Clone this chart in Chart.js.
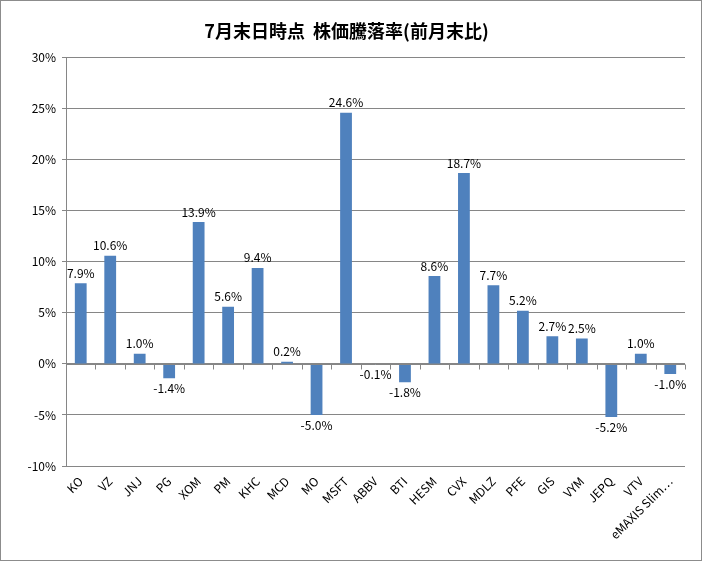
<!DOCTYPE html>
<html>
<head>
<meta charset="utf-8">
<script src="https://cdn.jsdelivr.net/npm/chart.js@4"></script>
<style>
  html, body { margin: 0; padding: 0; background: #fff; }
  #wrap { width: 702px; height: 561px; position: relative; }
</style>
</head>
<body>
<div id="wrap"><canvas id="myChart" width="702" height="561"></canvas></div>
<script>
'use strict';
// 銘柄と騰落率(%)
const tickers = ['KO','VZ','JNJ','PG','XOM','PM','KHC','MCD','MO','MSFT','ABBV','BTI','HESM','CVX','MDLZ','PFE','GIS','VYM','JEPQ','VTV','eMAXIS Slim…'];
const changes = [7.9, 10.6, 1.0, -1.4, 13.9, 5.6, 9.4, 0.2, -5.0, 24.6, -0.1, -1.8, 8.6, 18.7, 7.7, 5.2, 2.7, 2.5, -5.2, 1.0, -1.0];
const yTicks = [30, 25, 20, 15, 10, 5, 0, -5, -10];
const titleText = '7月末日時点  株価騰落率(前月末比)';

const barColor = '#4F81BD';
const gridColor = '#868686';
const fontFamily = '"Noto Sans CJK JP", "Noto Sans", sans-serif';

// value labels above / below each bar
const valueLabels = {
  id: 'valueLabels',
  afterDatasetsDraw(chart) {
    const ctx = chart.ctx;
    const meta = chart.getDatasetMeta(0);
    ctx.save();
    ctx.font = '12px ' + fontFamily;
    ctx.fillStyle = '#000';
    ctx.textAlign = 'center';
    meta.data.forEach((bar, i) => {
      const v = changes[i];
      const txt = v.toFixed(1) + '%';
      if (v >= 0) {
        ctx.textBaseline = 'bottom';
        ctx.fillText(txt, bar.x, bar.y - 4);
      } else {
        ctx.textBaseline = 'top';
        ctx.fillText(txt, bar.x, bar.y + 4);
      }
    });
    ctx.restore();
  }
};

// zero axis line with small tick marks + outer frame
const zeroAxis = {
  id: 'zeroAxis',
  afterDatasetsDraw(chart) {
    const ctx = chart.ctx;
    const y0 = Math.round(chart.scales.y.getPixelForValue(0)) + 0.5;
    ctx.save();
    ctx.strokeStyle = gridColor;
    ctx.lineWidth = 1;
    ctx.beginPath();
    ctx.moveTo(chart.chartArea.left, y0);
    ctx.lineTo(chart.chartArea.right, y0);
    const step = (chart.chartArea.right - chart.chartArea.left) / tickers.length;
    for (let i = 0; i <= tickers.length; i++) {
      const px = Math.round(chart.chartArea.left + step * i) + 0.5;
      ctx.moveTo(px, y0);
      ctx.lineTo(px, y0 + 5);
    }
    ctx.stroke();
    ctx.restore();
  },
  afterDraw(chart) {
    const ctx = chart.ctx;
    ctx.save();
    ctx.strokeStyle = '#8c8c8c';
    ctx.lineWidth = 1;
    ctx.strokeRect(0.5, 0.5, chart.width - 1, chart.height - 1);
    ctx.restore();
  }
};

const bg = {
  id: 'bg',
  beforeDraw(chart) {
    const ctx = chart.ctx;
    ctx.save();
    ctx.fillStyle = '#fff';
    ctx.fillRect(0, 0, chart.width, chart.height);
    ctx.restore();
  }
};

let ctx = document.getElementById('myChart').getContext('2d');
let chart = new Chart(ctx, {
  type: 'bar',
  data: {
    labels: tickers,
    datasets: [{
      label: '騰落率',
      data: changes,
      backgroundColor: barColor,
      borderWidth: 0,
      barPercentage: 0.4,
      categoryPercentage: 1.0
    }]
  },
  options: {
    responsive: false,
    animation: false,
    devicePixelRatio: 1,
    layout: { padding: { left: 8, right: 17, top: 0, bottom: 0 } },
    plugins: {
      legend: { display: false },
      tooltip: { enabled: false },
      title: {
        display: true,
        text: titleText,
        color: '#000',
        font: { family: fontFamily, size: 18, weight: 'bold' },
        padding: { top: 20, bottom: 16 }
      }
    },
    scales: {
      x: {
        grid: { display: false, drawTicks: false },
        border: { display: false },
        ticks: {
          autoSkip: false,
          minRotation: 45,
          maxRotation: 45,
          color: '#000',
          padding: 8,
          font: { family: fontFamily, size: 12 }
        },
        afterFit(scale) { scale.height = 95; }
      },
      y: {
        min: -10,
        max: 30,
        afterBuildTicks(scale) { scale.ticks = yTicks.map(v => ({ value: v })); },
        grid: { color: gridColor, drawTicks: true, tickLength: 4, tickColor: gridColor },
        border: { display: true, color: gridColor },
        ticks: {
          color: '#000',
          padding: 6,
          font: { family: fontFamily, size: 12 },
          callback: v => v + '%'
        },
        afterFit(scale) { scale.width = 58; }
      }
    }
  },
  plugins: [bg, valueLabels, zeroAxis]
});
</script>
</body>
</html>
